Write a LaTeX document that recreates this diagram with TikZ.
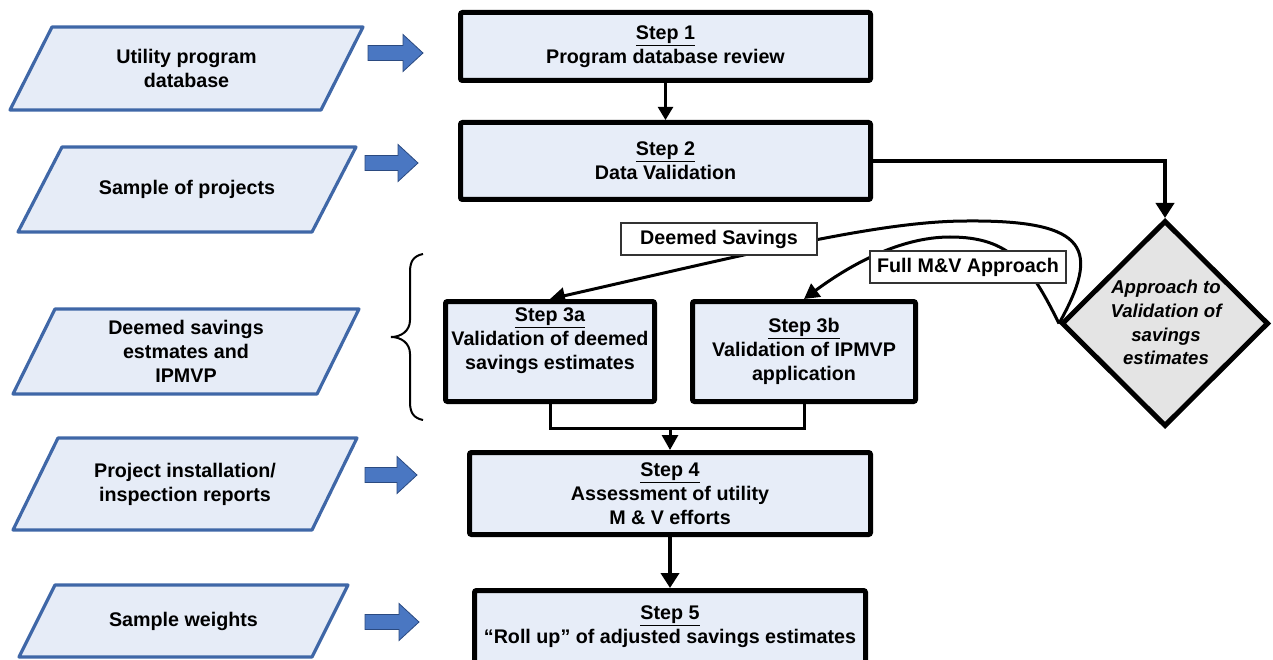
\documentclass[tikz,border=0pt]{standalone}
\usepackage{fontspec}
\setmainfont{Liberation Sans}
\usetikzlibrary{arrows.meta,shapes.geometric}

\definecolor{paraline}{HTML}{3F67A7}
\definecolor{parafill}{HTML}{E6ECF7}
\definecolor{stepfill}{HTML}{E7EDF8}
\definecolor{arrowfill}{HTML}{4A77C2}
\definecolor{arrowline}{HTML}{2B4A80}
\definecolor{decfill}{HTML}{E4E4E4}

\tikzset{
  base/.style={font=\bfseries\fontsize{19.7pt}{24pt}\selectfont, align=center, inner sep=0pt},
  parabox/.style={draw=paraline, fill=parafill, line width=3.2pt, line join=round},
  paratext/.style={base},
  blockarrow/.style={draw=arrowline, fill=arrowfill, line width=0.8pt},
  stepbox/.style={base, draw=black, fill=stepfill, line width=5pt, rounded corners=2pt},
  decision/.style={shape=diamond, draw=black, fill=decfill, line width=5pt, inner sep=0pt,
                   minimum width=207pt, minimum height=206pt},
  dectext/.style={base, font=\bfseries\itshape\fontsize{18.6pt}{23.7pt}\selectfont},
  tagbox/.style={base, draw=black!80, fill=white, line width=1.2pt,
                 minimum width=196pt, minimum height=32pt},
  thinflow/.style={draw, line width=2.2pt, -{Triangle[length=13pt,width=15pt]}},
  flow/.style={draw, line width=3pt, -{Triangle[length=15pt,width=16pt]}},
  heavyflow/.style={draw, line width=4pt, -{Triangle[length=15pt,width=18pt]}},
  bracestyle/.style={draw, line width=2pt},
}

% input parallelogram: name, top-left x, top-right x, top y, bottom y, slant, text
\newcommand\inputbox[7]{%
  \draw[parabox] (#2,#4) -- (#3,#4) -- ({#3-#6},#5) -- ({#2-#6},#5) -- cycle;
  \node[paratext] (#1) at ({(#2+#3-#6)/2},{(#4+#5)/2}) {#7};
}
% blue block arrow: tail x, tip x, centre y
\newcommand\blockarrow[3]{%
  \draw[blockarrow] (#1,{#3-7.5}) -- ({#2-20},{#3-7.5}) -- ({#2-20},{#3-18.5}) -- (#2,#3)
    -- ({#2-20},{#3+18.5}) -- ({#2-20},{#3+7.5}) -- (#1,{#3+7.5}) -- cycle;
}

\begin{document}
\begin{tikzpicture}[x=1pt,y=-1pt]
\useasboundingbox (0,0) rectangle (1273,660);
\clip (0,0) rectangle (1273,660);

% inputs on the left
\inputbox{in1}{52}{363}{27}{110}{42}{Utility program\\database}
\inputbox{in2}{62}{356}{147}{232}{44}{Sample of projects}
\inputbox{in3}{55}{359}{309}{394}{42}{Deemed savings\\estmates and\\IPMVP}
\inputbox{in4}{58}{357}{438}{530}{45}{Project installation/\\inspection reports}
\inputbox{in5}{55}{348}{585}{657}{36}{Sample weights}

\blockarrow{368}{423}{53}
\blockarrow{365}{418}{163}
\blockarrow{365}{417}{475}
\blockarrow{365}{419}{622}

% grouping brace
\draw[bracestyle] (423,254) .. controls (413,256) and (410,262) .. (410,272) -- (410,320)
  .. controls (410,331) and (401,337) .. (391,337)
  .. controls (401,337) and (410,343) .. (410,354) -- (410,402)
  .. controls (410,412) and (413,418) .. (423,420);

% process steps
\node[stepbox, minimum width=410pt, minimum height=68pt] (s1) at (665.5,46.5)
  {\underline{Step 1}\\Program database review};
\node[stepbox, minimum width=410pt, minimum height=77pt] (s2) at (665.5,161)
  {\underline{Step 2}\\Data Validation};
\node[stepbox, minimum width=209pt, minimum height=100pt] (s3a) at (550,351.5) {};
\node[base] (s3atext) at (550,341) {\underline{Step 3a}\\Validation of deemed\\savings estimates};
\node[stepbox, minimum width=223pt, minimum height=100pt] (s3b) at (804,351.5)
  {\underline{Step 3b}\\Validation of IPMVP\\application};
\node[stepbox, minimum width=401pt, minimum height=82pt] (s4) at (670,493.5)
  {\underline{Step 4}\\Assessment of utility\\M \& V efforts};
\node[stepbox, minimum width=391pt, minimum height=120pt] (s5) at (670,650.5) {};
\node[base] (s5text) at (670,627) {\underline{Step 5}\\“Roll up” of adjusted savings estimates};

% decision
\node[decision] (dia) at (1165,323.5) {};
\node[dectext] (diatext) at (1166,322.5) {Approach to\\Validation of\\savings\\estimates};

% flow
\draw[thinflow] (s1.south) -- (s2.north);
\draw[heavyflow] (s2.east) -| (dia.north);

\draw[flow] (dia.west) .. controls (1100,250) and (1090,220) .. (967,221)
  .. controls (880,221) and (757,252) .. (s3a.north);
\draw[flow] (dia.west) .. controls (1030,265) and (1010,237) .. (950,237)
  .. controls (900,237) and (850,265) .. (s3b.north);

\node[tagbox] (ds) at (719,239) {Deemed Savings};
\node[tagbox] (fmv) at (968,267) {Full M\&V Approach};

\coordinate (j) at (670,428);
\draw[line width=3pt] (s3a.south) |- (j) -| (s3b.south);
\draw[flow] (j) -- (s4.north);
\draw[heavyflow] (s4.south) -- (s5.north);
\end{tikzpicture}
\end{document}
